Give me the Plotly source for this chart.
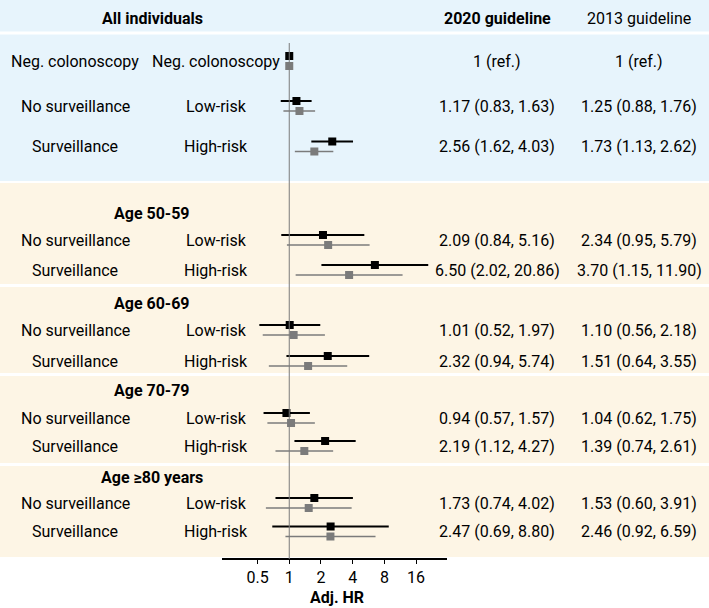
import plotly.graph_objects as go

# hazard ratios
group_labels = ["Neg. colonoscopy", "No surveillance", "Surveillance",
                "No surveillance", "Surveillance", "No surveillance", "Surveillance",
                "No surveillance", "Surveillance", "No surveillance", "Surveillance"]
risk_labels = ["Neg. colonoscopy", "Low-risk", "High-risk",
               "Low-risk", "High-risk", "Low-risk", "High-risk",
               "Low-risk", "High-risk", "Low-risk", "High-risk"]

hr_2020 = [1, 1.17, 2.56, 2.09, 6.50, 1.01, 2.32, 0.94, 2.19, 1.73, 2.47]
lo_2020 = [1, 0.83, 1.62, 0.84, 2.02, 0.52, 0.94, 0.57, 1.12, 0.74, 0.69]
hi_2020 = [1, 1.63, 4.03, 5.16, 20.86, 1.97, 5.74, 1.57, 4.27, 4.02, 8.80]

hr_2013 = [1, 1.25, 1.73, 2.34, 3.70, 1.10, 1.51, 1.04, 1.39, 1.53, 2.46]
lo_2013 = [1, 0.88, 1.13, 0.95, 1.15, 0.56, 0.64, 0.62, 0.74, 0.60, 0.92]
hi_2013 = [1, 1.76, 2.62, 5.79, 11.90, 2.18, 3.55, 1.75, 2.61, 3.91, 6.59]

section_titles = ["All individuals", "Age 50-59", "Age 60-69", "Age 70-79", "Age \u226580 years"]

tick_vals = [0.5, 1, 2, 4, 8, 16]
tick_text = ["0.5", "1", "2", "4", "8", "16"]

# layout (pixel rows, y grows downwards)
W, H = 709, 608
row_y = [61, 106, 146.5, 240, 270, 330, 361, 418, 446, 503, 531.5]
section_y = [18, 213, 303, 390, 477]
axis_y = 559
FONT = "Roboto"
FS = 16
BLUE = "#e7f4fc"
BEIGE = "#fdf5e5"
GREY = "#7b7b7b"


def px(x):
    return x / W


def fmt(hr, lo, hi):
    if hr == 1 and lo == 1 and hi == 1:
        return "1 (ref.)"
    return "%.2f (%.2f, %.2f)" % (hr, lo, hi)


fig = go.Figure()

fig.add_trace(go.Scatter(
    x=hr_2020, y=[y - 5 for y in row_y], mode="markers",
    marker=dict(symbol="square", size=8, color="black"),
    error_x=dict(type="data", symmetric=False,
                 array=[h - m for h, m in zip(hi_2020, hr_2020)],
                 arrayminus=[m - l for m, l in zip(hr_2020, lo_2020)],
                 color="black", thickness=2, width=0),
    hoverinfo="skip"))

fig.add_trace(go.Scatter(
    x=hr_2013, y=[y + 5 for y in row_y], mode="markers",
    marker=dict(symbol="square", size=8, color=GREY),
    error_x=dict(type="data", symmetric=False,
                 array=[h - m for h, m in zip(hi_2013, hr_2013)],
                 arrayminus=[m - l for m, l in zip(hr_2013, lo_2013)],
                 color=GREY, thickness=1.6, width=0),
    hoverinfo="skip"))

shapes = [
    dict(type="rect", xref="paper", yref="y", x0=0, x1=1, y0=0, y1=181,
         fillcolor=BLUE, line_width=0, layer="below"),
    dict(type="line", xref="paper", yref="y", x0=0, x1=1, y0=33, y1=33,
         line=dict(color="white", width=3), layer="below"),
]
for top, bottom in [(183, 284), (287, 373), (376, 463), (466, 557)]:
    shapes.append(dict(type="rect", xref="paper", yref="y", x0=0, x1=1,
                       y0=top, y1=bottom, fillcolor=BEIGE, line_width=0, layer="below"))
shapes.append(dict(type="line", xref="x", yref="y", x0=1, x1=1, y0=43, y1=axis_y,
                   line=dict(color=GREY, width=1)))

annotations = []


def label(x, y, text, bold=False):
    annotations.append(dict(
        x=px(x), y=y, xref="paper", yref="y", text="<b>%s</b>" % text if bold else text,
        showarrow=False, xanchor="center", yanchor="middle",
        font=dict(family=FONT, size=FS, color="black")))


label(152, section_y[0], section_titles[0], bold=True)
label(497, section_y[0], "2020 guideline", bold=True)
label(639, section_y[0], "2013 guideline")
for t, y in zip(section_titles[1:], section_y[1:]):
    label(152, y, t, bold=True)

for i, y in enumerate(row_y):
    label(75, y, group_labels[i])
    label(216, y, risk_labels[i])
    label(497, y, fmt(hr_2020[i], lo_2020[i], hi_2020[i]))
    label(639, y, fmt(hr_2013[i], lo_2013[i], hi_2013[i]))

label(337, 597, "Adj. HR", bold=True)

fig.update_layout(
    width=W, height=H,
    margin=dict(l=0, r=0, t=0, b=0),
    paper_bgcolor="white", plot_bgcolor="rgba(0,0,0,0)",
    showlegend=False,
    shapes=shapes, annotations=annotations,
    font=dict(family=FONT, size=FS, color="black"),
    xaxis=dict(type="log", range=[-0.6413, 1.4946],
               domain=[221.7 / W, 446.7 / W],
               anchor="free", position=1 - axis_y / H,
               tickvals=tick_vals, ticktext=tick_text,
               ticks="outside", ticklen=4, tickcolor="black",
               showline=True, linecolor="black", linewidth=1.5,
               showgrid=False, zeroline=False,
               tickfont=dict(family=FONT, size=FS)),
    yaxis=dict(range=[H, 0], domain=[0, 1], visible=False, fixedrange=True),
)

# drop the browser's default body margin so the figure fills the window
fig.write_html("out.html", config={"displayModeBar": False},
               post_script="document.body.style.margin='0';")
